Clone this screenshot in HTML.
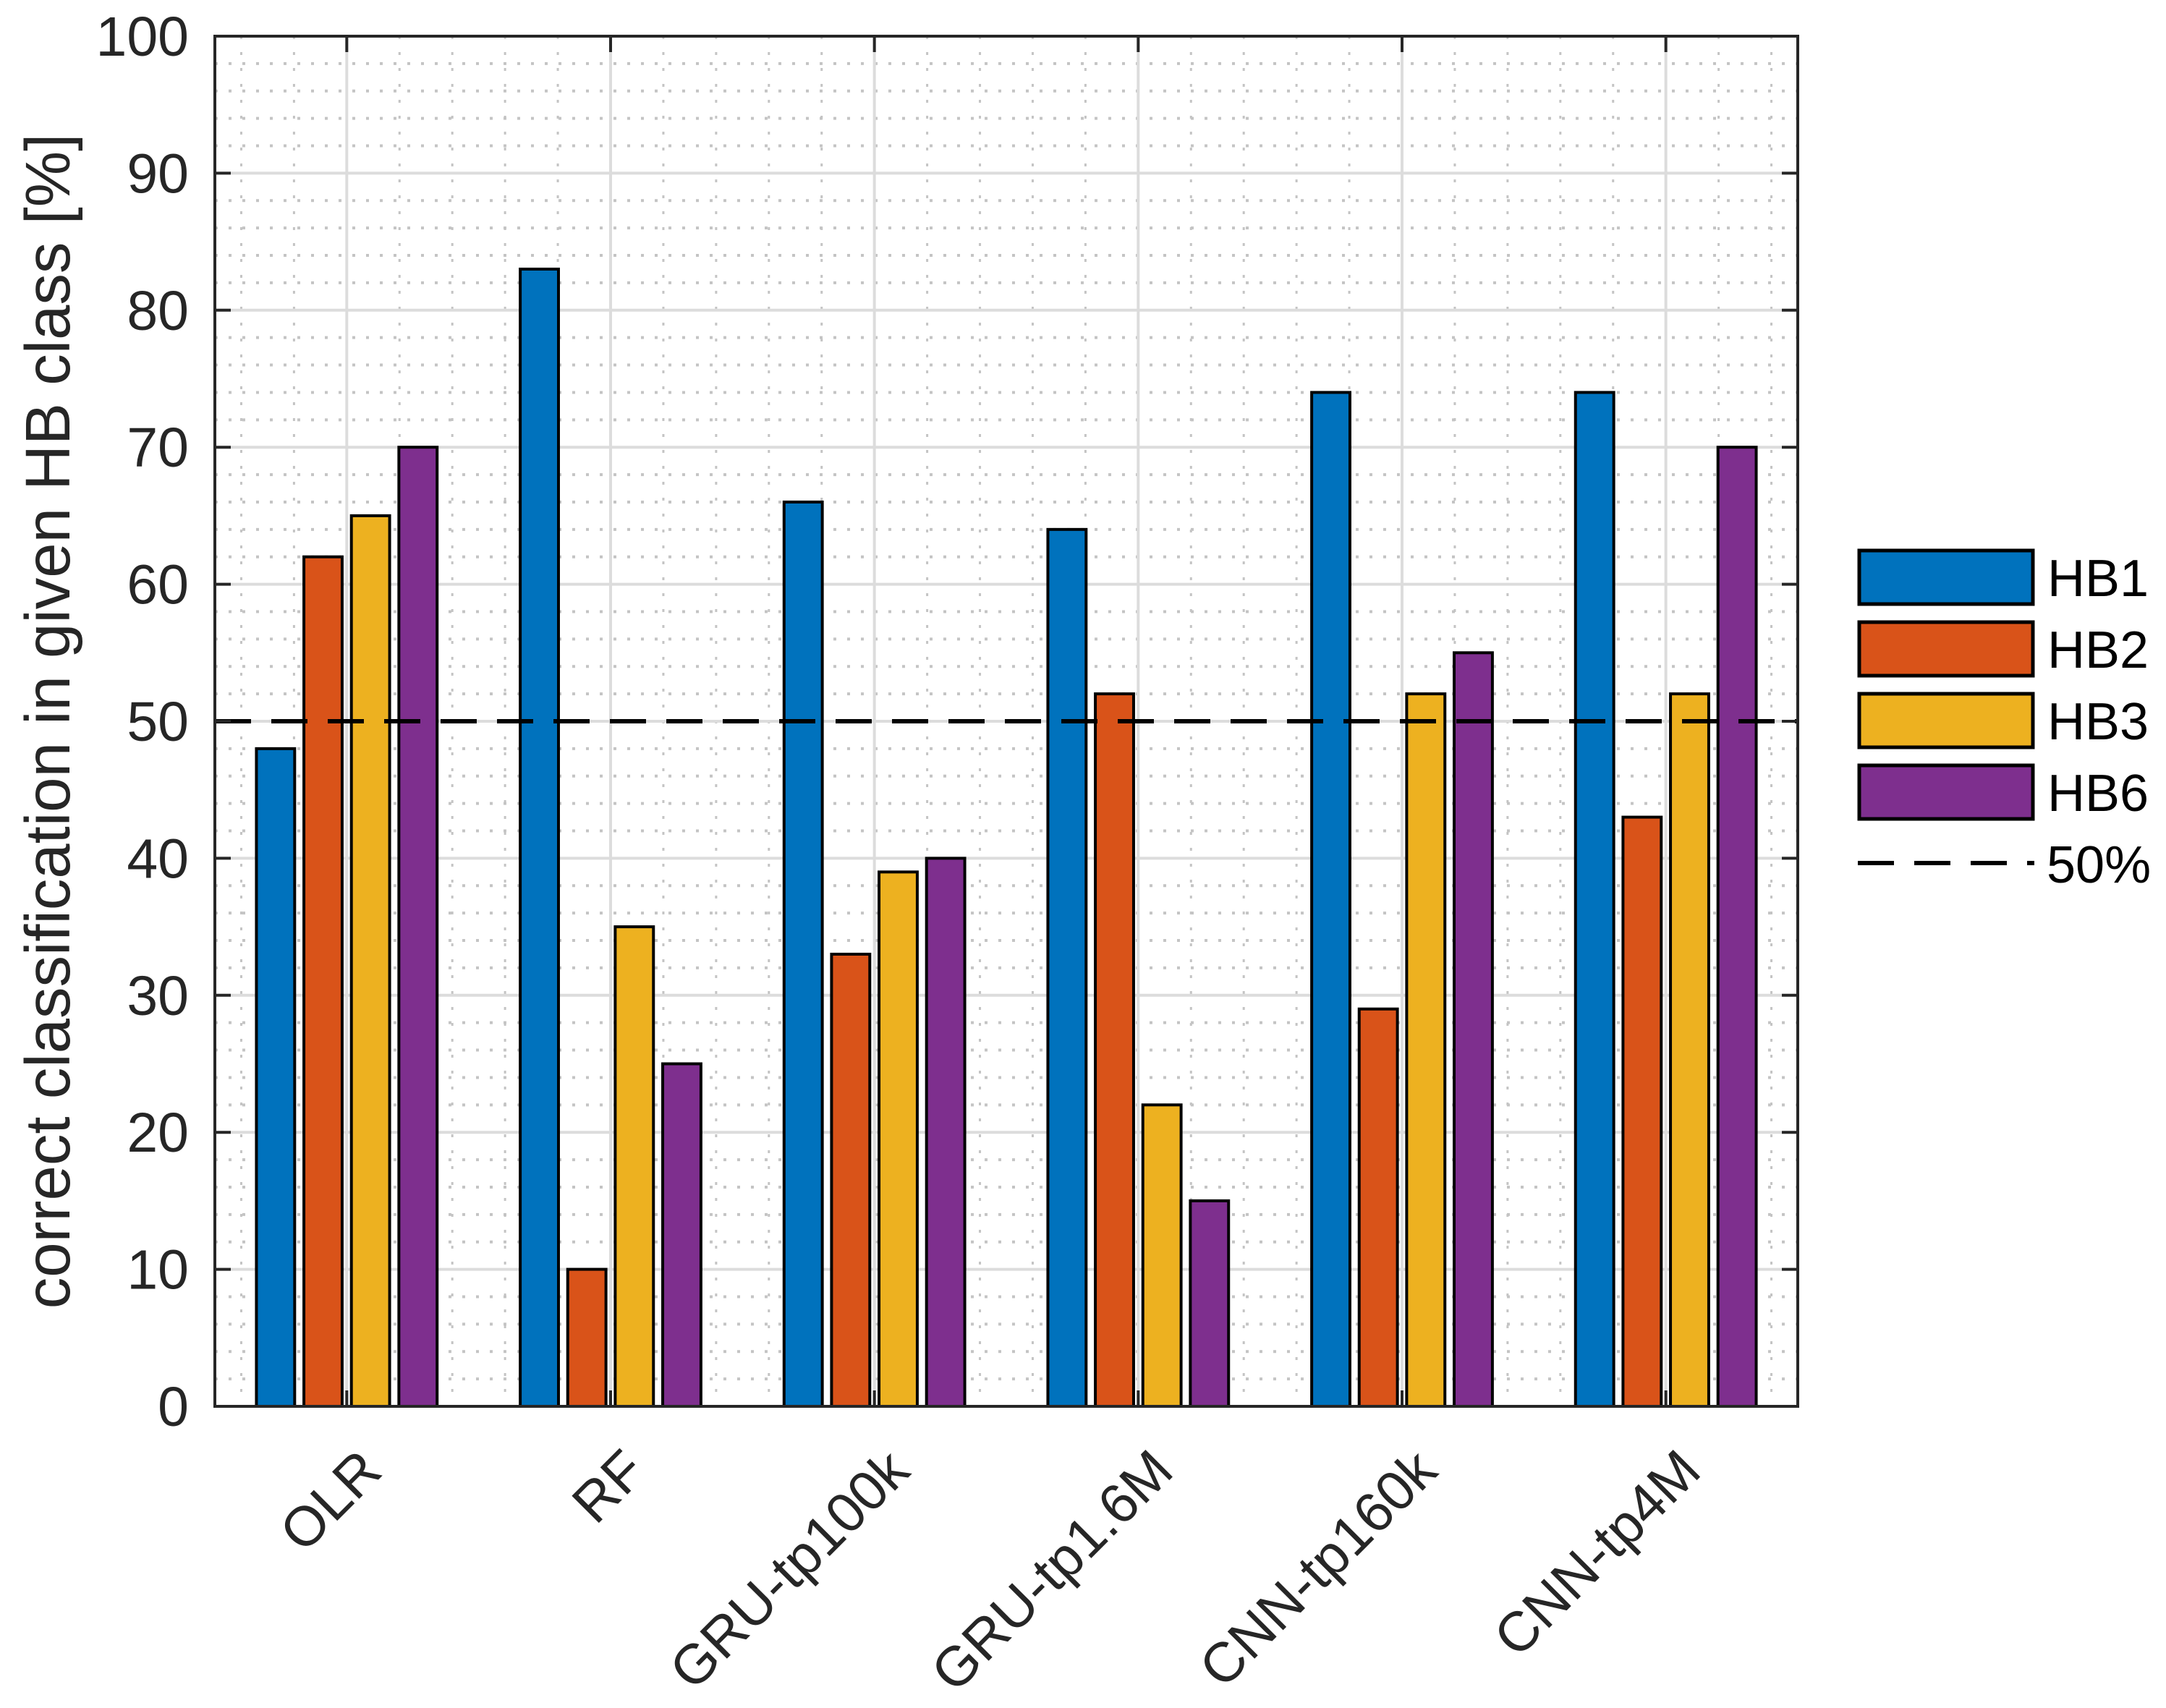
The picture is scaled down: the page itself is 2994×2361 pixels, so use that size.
<!DOCTYPE html>
<html><head><meta charset="utf-8"><style>
html,body{margin:0;padding:0;background:#fff;}
svg{display:block;font-family:"Liberation Sans",Arial,sans-serif;}
</style></head>
<body>
<svg id="chart" width="2994" height="2361" viewBox="0 0 2994 2361" xmlns="http://www.w3.org/2000/svg">
<g id="grid"></g>
<g id="bars"></g>
<g id="ref"></g>
<g id="axes"></g>
<text x="0" y="0" transform="translate(96,997) rotate(-90)" text-anchor="middle" font-size="87" fill="#262626">correct classification in given HB class [%]</text>
<g id="legend"></g>
</svg>
<script>
const categories = ["OLR","RF","GRU-tp100k","GRU-tp1.6M","CNN-tp160k","CNN-tp4M"];
const seriesNames = ["HB1","HB2","HB3","HB6"];
const hb1 = [48,83,66,64,74,74];
const hb2 = [62,10,33,52,29,43];
const hb3 = [65,35,39,22,52,52];
const hb6 = [70,25,40,15,55,70];
const refValue = 50;
const yTicks = [0,10,20,30,40,50,60,70,80,90,100];

const colors = ["#0072BD","#D95319","#EDB120","#7E2F8E"];
const series = [hb1,hb2,hb3,hb6];
const NS = "http://www.w3.org/2000/svg";
const L = 297, R = 2485, T = 50, B = 1944;
const xMin = 0.5, xMax = 6.5, yMin = 0, yMax = 100;
function xs(v){ return L + (v - xMin) / (xMax - xMin) * (R - L); }
function ys(v){ return B - (v - yMin) / (yMax - yMin) * (B - T); }
function mk(tag, attrs, parent){
  const e = document.createElementNS(NS, tag);
  for (const k in attrs) e.setAttribute(k, attrs[k]);
  parent.appendChild(e);
  return e;
}
const grid = document.getElementById("grid");
const bars = document.getElementById("bars");
const ref = document.getElementById("ref");
const axes = document.getElementById("axes");
const legend = document.getElementById("legend");

for (let v = xMin + 0.1; v < xMax; v += 0.2) {
  const l = mk("line", {x1: xs(v), x2: xs(v), y1: T, y2: B, stroke: "#c4c4c4", "stroke-width": 3, "stroke-dasharray": "4 18"}, grid);
  
  
}
for (let v = 2; v < 100; v += 2) {
  if (v % 10 === 0) continue;
  const l = mk("line", {x1: L, x2: R, y1: ys(v), y2: ys(v), stroke: "#c4c4c4", "stroke-width": 4, "stroke-dasharray": "4 15"}, grid);
  
  
}
yTicks.forEach(v => {
  const l = mk("line", {x1: L, x2: R, y1: ys(v), y2: ys(v), stroke: "#dcdcdc", "stroke-width": 4}, grid);
  
  
});
categories.forEach((c, i) => {
  const l = mk("line", {x1: xs(i+1), x2: xs(i+1), y1: T, y2: B, stroke: "#dcdcdc", "stroke-width": 4}, grid);
  
  
});

const offsets = [-0.27, -0.09, 0.09, 0.27];
const bw = 0.145;
series.forEach((s, si) => {
  s.forEach((v, i) => {
    const cx = (i + 1) + offsets[si];
    const x0 = xs(cx - bw/2), x1 = xs(cx + bw/2);
    const r = mk("rect", {x: x0, y: ys(v), width: x1 - x0, height: ys(0) - ys(v), fill: colors[si], stroke: "#000", "stroke-width": 4}, bars);
    
    
  });
});

const rl = mk("line", {x1: L, x2: R, y1: ys(refValue), y2: ys(refValue), stroke: "#000", "stroke-width": 6, "stroke-dasharray": "50 28"}, ref);



const box = mk("rect", {x: L, y: T, width: R - L, height: B - T, fill: "none", stroke: "#262626", "stroke-width": 4}, axes);


yTicks.forEach(v => {
  const t1 = mk("line", {x1: L, x2: L + 22, y1: ys(v), y2: ys(v), stroke: "#262626", "stroke-width": 4}, axes);
  
  
  const t2 = mk("line", {x1: R - 22, x2: R, y1: ys(v), y2: ys(v), stroke: "#262626", "stroke-width": 4}, axes);
  
  
  const lb = mk("text", {x: L - 36, y: ys(v) + 27, "text-anchor": "end", "font-size": 77, fill: "#262626"}, axes);
  lb.textContent = v;
  
  
});
categories.forEach((c, i) => {
  const x = xs(i + 1);
  const t1 = mk("line", {x1: x, x2: x, y1: B, y2: B - 22, stroke: "#262626", "stroke-width": 4}, axes);
  
  
  const t2 = mk("line", {x1: x, x2: x, y1: T, y2: T + 22, stroke: "#262626", "stroke-width": 4}, axes);
  
  
  const lb = mk("text", {x: 0, y: 0, "text-anchor": "end", "font-size": 77, fill: "#262626", transform: "translate(" + (x + 52) + ",2037) rotate(-45)"}, axes);
  lb.textContent = c;
  
  
});

const lgY = [761, 860, 959, 1058];
seriesNames.forEach((n, i) => {
  const r = mk("rect", {x: 2570, y: lgY[i], width: 240, height: 74, fill: colors[i], stroke: "#000", "stroke-width": 5}, legend);
  
  
  const t = mk("text", {x: 2830, y: lgY[i] + 63, "font-size": 72, fill: "#000"}, legend);
  t.textContent = n;
  
  
});
const ll = mk("line", {x1: 2568, x2: 2812, y1: 1193, y2: 1193, stroke: "#000", "stroke-width": 6, "stroke-dasharray": "50 28"}, legend);


const lt = mk("text", {x: 2829, y: 1220, "font-size": 72, fill: "#000"}, legend);
lt.textContent = "50%";


</script>
</body></html>
